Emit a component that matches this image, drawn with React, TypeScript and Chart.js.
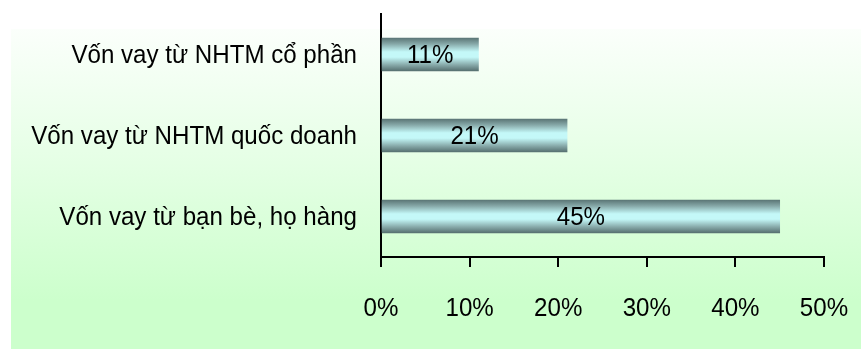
import React, { useEffect, useRef } from "react";
import { Chart, registerables } from "chart.js";

Chart.register(...registerables);

const categories = [
  "Vốn vay từ NHTM cổ phần",
  "Vốn vay từ NHTM quốc doanh",
  "Vốn vay từ bạn bè, họ hàng",
];
const shares = [11, 21, 45];
const tickValues = [0, 10, 20, 30, 40, 50];

const FONT = "'Liberation Sans', Arial, sans-serif";
const FONT_SIZE = 26.5;
const SQUEEZE = 0.91; // horizontal condensing of the label face
const BAR_THICKNESS = 33;

// Cylinder-like shading: dark edges, light cyan middle
function barGradient(ctx: CanvasRenderingContext2D, top: number, bottom: number) {
  const g = ctx.createLinearGradient(0, top, 0, bottom);
  g.addColorStop(0, "#5b7676");
  g.addColorStop(0.18, "#86a8a8");
  g.addColorStop(0.42, "#c4f8f8");
  g.addColorStop(0.58, "#c4f8f8");
  g.addColorStop(0.82, "#86a8a8");
  g.addColorStop(1, "#567070");
  return g;
}

function drawCondensed(
  ctx: CanvasRenderingContext2D,
  text: string,
  x: number,
  baseline: number,
  align: "left" | "center" | "right"
) {
  ctx.save();
  ctx.font = `${FONT_SIZE}px ${FONT}`;
  ctx.fillStyle = "#000";
  ctx.textBaseline = "alphabetic";
  ctx.textAlign = align;
  ctx.translate(x, baseline);
  ctx.scale(SQUEEZE, 1);
  ctx.fillText(text, 0, 0);
  ctx.restore();
}

// Category names, axis percentages and the value printed inside each bar
const textLayer = {
  id: "textLayer",
  afterDraw(chart: any) {
    const ctx = chart.ctx;
    const xs = chart.scales.x;
    const ys = chart.scales.y;
    categories.forEach((name, i) => {
      const yc = ys.getPixelForValue(i);
      drawCondensed(ctx, name, xs.left - 24, yc + 8.6, "right");
    });
    tickValues.forEach((v) => {
      drawCondensed(ctx, `${v}%`, xs.getPixelForValue(v), xs.top + 58.5, "center");
    });
    const meta = chart.getDatasetMeta(0);
    meta.data.forEach((bar: any, i: number) => {
      drawCondensed(ctx, `${shares[i]}%`, (bar.base + bar.x) / 2, bar.y + 8.7, "center");
    });
  },
};

export default function App() {
  const canvasRef = useRef<HTMLCanvasElement>(null);

  useEffect(() => {
    if (!canvasRef.current) return;
    const chart = new Chart(canvasRef.current, {
      type: "bar",
      data: {
        labels: categories,
        datasets: [
          {
            data: shares,
            backgroundColor: (c: any) => {
              const ys = c.chart.scales?.y;
              if (!ys || c.dataIndex === undefined) return "#c4f8f8";
              const yc = ys.getPixelForValue(c.dataIndex);
              if (!Number.isFinite(yc)) return "#c4f8f8";
              return barGradient(c.chart.ctx, yc - BAR_THICKNESS / 2, yc + BAR_THICKNESS / 2);
            },
            borderWidth: 0,
            barThickness: BAR_THICKNESS,
          },
        ],
      },
      plugins: [textLayer],
      options: {
        indexAxis: "y",
        animation: false,
        responsive: false,
        maintainAspectRatio: false,
        layout: { padding: { top: 14, right: 37, left: 0, bottom: 0 } },
        plugins: {
          legend: { display: false },
          tooltip: { enabled: false },
        },
        scales: {
          x: {
            min: 0,
            max: 50,
            afterBuildTicks(scale: any) {
              scale.ticks = tickValues.map((v) => ({ value: v }));
            },
            afterFit(scale: any) {
              scale.height = 92;
              scale.paddingLeft = 0;
              scale.paddingRight = 0;
            },
            ticks: {
              color: "rgba(0,0,0,0)",
              padding: 26,
              font: { family: FONT, size: 20 },
              callback: (v: any) => `${v}%`,
            },
            grid: {
              drawOnChartArea: false,
              drawTicks: true,
              tickLength: 10,
              color: "#000",
              lineWidth: 2,
            },
            border: { color: "#000", width: 2 },
          },
          y: {
            afterFit(scale: any) {
              scale.width = 381;
              scale.paddingTop = 0;
              scale.paddingBottom = 0;
            },
            ticks: {
              color: "rgba(0,0,0,0)",
              padding: 24,
              font: { family: FONT, size: 20 },
            },
            grid: { display: false, drawTicks: false },
            border: { color: "#000", width: 2 },
          },
        },
      },
    });
    return () => chart.destroy();
  }, []);

  return (
    <div style={{ position: "fixed", left: 0, top: 0, width: 861, height: 349, background: "#fff" }}>
      <div
        style={{
          position: "absolute",
          left: 11,
          top: 29,
          width: 850,
          height: 320,
          background: "linear-gradient(to bottom, #fbfffb 0%, #e6ffe6 40%, #ccffcc 85%, #ccffcc 100%)",
        }}
      />
      <canvas
        ref={canvasRef}
        width={861}
        height={349}
        style={{ position: "absolute", left: 0, top: 0, width: 861, height: 349 }}
      />
    </div>
  );
}
